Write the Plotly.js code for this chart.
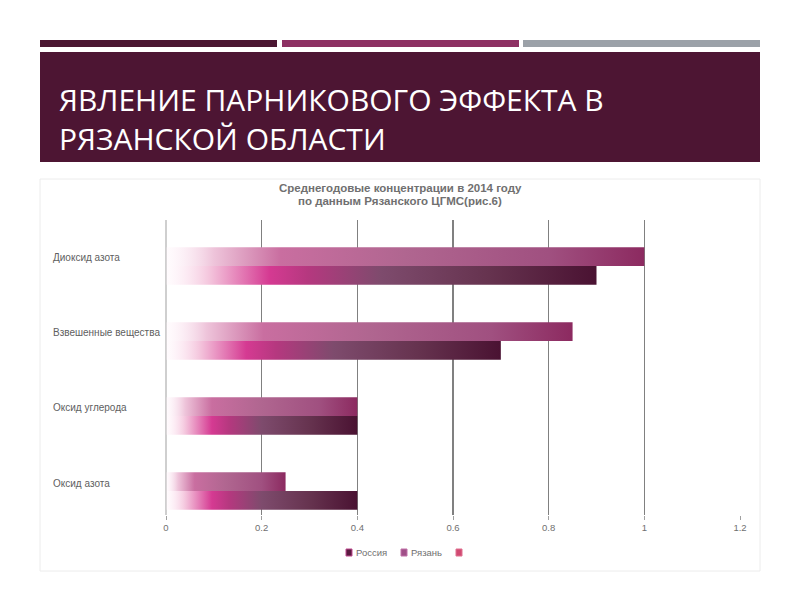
<!DOCTYPE html>
<html>
<head>
<meta charset="utf-8">
<script src="https://cdn.plot.ly/plotly-3.0.1.min.js"></script>
<style>html,body{margin:0;padding:0;background:#fff;}#chart{width:800px;height:600px;}</style>
</head>
<body>
<div id="chart"></div>
<script>
// ---- data ----
const categories = ['Диоксид азота', 'Взвешенные вещества', 'Оксид углерода', 'Оксид азота'];
const russia = [0.9, 0.7, 0.4, 0.4];
const ryazan = [1.0, 0.85, 0.4, 0.25];
const xTicks = [0, 0.2, 0.4, 0.6, 0.8, 1, 1.2];
const seriesNames = ['Россия', 'Рязань', ''];
const chartTitle = ['Среднегодовые концентрации в 2014 году', 'по данным Рязанского ЦГМС(рис.6)'];
const slideTitle = ['ЯВЛЕНИЕ ПАРНИКОВОГО ЭФФЕКТА В', 'РЯЗАНСКОЙ ОБЛАСТИ'];

// ---- geometry helpers (pixel -> paper) ----
const W = 800, H = 600, L = 166, R = 60, T = 220, B = 85;
const PW = W - L - R, PH = H - T - B;
const PX = x => (x - L) / PW;
const PY = y => (H - B - y) / PH;

const russiaScale = [[0, 'rgba(255,240,248,0.2)'], [0.1, '#f4c6dd'], [0.24, '#d53a92'], [0.33, '#b5387f'], [0.5, '#7e4b6d'], [0.75, '#66334f'], [1, '#4a1232']];
const ryazanScale = [[0, 'rgba(255,240,248,0.2)'], [0.1, '#eec4da'], [0.24, '#c96ea0'], [0.5, '#b06690'], [0.8, '#a05080'], [1, '#8c2a60']];

const traces = [];
const barH = 0.25;
categories.forEach((c, i) => {
  const v1 = ryazan[i];
  traces.push({
    type: 'scatter', mode: 'lines', fill: 'toself', showlegend: false, hoverinfo: 'skip',
    x: [0, v1, v1, 0, 0], y: [i - barH, i - barH, i, i, i - barH],
    line: {width: 0, color: 'rgba(0,0,0,0)'},
    fillcolor: '#a85a86',
    fillgradient: {type: 'horizontal', colorscale: ryazanScale}
  });
  const v2 = russia[i];
  traces.push({
    type: 'scatter', mode: 'lines', fill: 'toself', showlegend: false, hoverinfo: 'skip',
    x: [0, v2, v2, 0, 0], y: [i, i, i + barH, i + barH, i],
    line: {width: 0, color: 'rgba(0,0,0,0)'},
    fillcolor: '#6a3555',
    fillgradient: {type: 'horizontal', colorscale: russiaScale}
  });
});

const shapes = [
  // top decorative bars
  {type: 'rect', xref: 'paper', yref: 'paper', x0: PX(40), x1: PX(277), y0: PY(47), y1: PY(40), fillcolor: '#4b1632', line: {width: 0}, layer: 'below'},
  {type: 'rect', xref: 'paper', yref: 'paper', x0: PX(282), x1: PX(519), y0: PY(47), y1: PY(40), fillcolor: '#8d3063', line: {width: 0}, layer: 'below'},
  {type: 'rect', xref: 'paper', yref: 'paper', x0: PX(523), x1: PX(760), y0: PY(47), y1: PY(40), fillcolor: '#9ba1a8', line: {width: 0}, layer: 'below'},
  // title block
  {type: 'rect', xref: 'paper', yref: 'paper', x0: PX(40), x1: PX(760), y0: PY(162), y1: PY(52), fillcolor: '#4d1533', line: {width: 0}, layer: 'below'},
  // chart frame
  {type: 'rect', xref: 'paper', yref: 'paper', x0: PX(40), x1: PX(760), y0: PY(571), y1: PY(179), fillcolor: 'rgba(0,0,0,0)', line: {width: 1, color: '#ececec'}, layer: 'below'},
  // legend swatches
  {type: 'rect', xref: 'paper', yref: 'paper', x0: PX(346), x1: PX(352), y0: PY(556), y1: PY(549), fillcolor: '#5a1a40', line: {width: 1, color: '#c04a90'}},
  {type: 'rect', xref: 'paper', yref: 'paper', x0: PX(401), x1: PX(407), y0: PY(556), y1: PY(549), fillcolor: '#a05088', line: {width: 1, color: '#c070a8'}},
  {type: 'rect', xref: 'paper', yref: 'paper', x0: PX(456), x1: PX(462), y0: PY(556), y1: PY(549), fillcolor: '#d04a72', line: {width: 1, color: '#e07090'}}
];

const annotations = [];
slideTitle.forEach((t, k) => {
  annotations.push({text: t, xref: 'paper', yref: 'paper', x: PX(57), y: PY(100 + 38 * k), xanchor: 'left', yanchor: 'middle', showarrow: false,
    font: {family: 'Open Sans, sans-serif', size: 30, color: '#ffffff'}});
});
chartTitle.forEach((t, k) => {
  annotations.push({text: '<b>' + t + '</b>', xref: 'paper', yref: 'paper', x: PX(400), y: PY(188 + 13 * k), xanchor: 'center', yanchor: 'middle', showarrow: false,
    font: {family: 'Liberation Sans, Arial, sans-serif', size: 11.5, color: '#707070'}});
});
categories.forEach((c, i) => {
  annotations.push({text: c, xref: 'paper', yref: 'y', x: PX(51), y: i, yshift: 8, xanchor: 'left', yanchor: 'middle', showarrow: false,
    font: {family: 'Liberation Sans, Arial, sans-serif', size: 10, color: '#606060'}});
});
const legendX = [354, 409];
seriesNames.slice(0, 2).forEach((n, k) => {
  annotations.push({text: n, xref: 'paper', yref: 'paper', x: PX(legendX[k]), y: PY(552), xanchor: 'left', yanchor: 'middle', showarrow: false,
    font: {family: 'Liberation Sans, Arial, sans-serif', size: 9.5, color: '#707070'}});
});

const layout = {
  width: W, height: H,
  margin: {l: L, r: R, t: T, b: B},
  paper_bgcolor: '#ffffff', plot_bgcolor: 'rgba(0,0,0,0)',
  showlegend: false,
  xaxis: {
    range: [0, 1.2], tickvals: xTicks, ticktext: xTicks.map(String),
    showgrid: true, gridcolor: '#808080', gridwidth: 1.5,
    zeroline: true, zerolinecolor: '#cfcfcf', zerolinewidth: 1.5,
    showline: false, ticks: 'outside', ticklen: 4, tickcolor: '#a0a0a0', tickwidth: 1,
    tickfont: {family: 'Liberation Sans, Arial, sans-serif', size: 9.5, color: '#707070'},
    fixedrange: true
  },
  yaxis: {
    range: [3.32, -0.613], showgrid: false, zeroline: false, showticklabels: false, showline: false, ticks: '', fixedrange: true
  },
  shapes: shapes,
  annotations: annotations
};

Plotly.newPlot('chart', traces, layout, {displayModeBar: false, staticPlot: true});
</script>
</body>
</html>
